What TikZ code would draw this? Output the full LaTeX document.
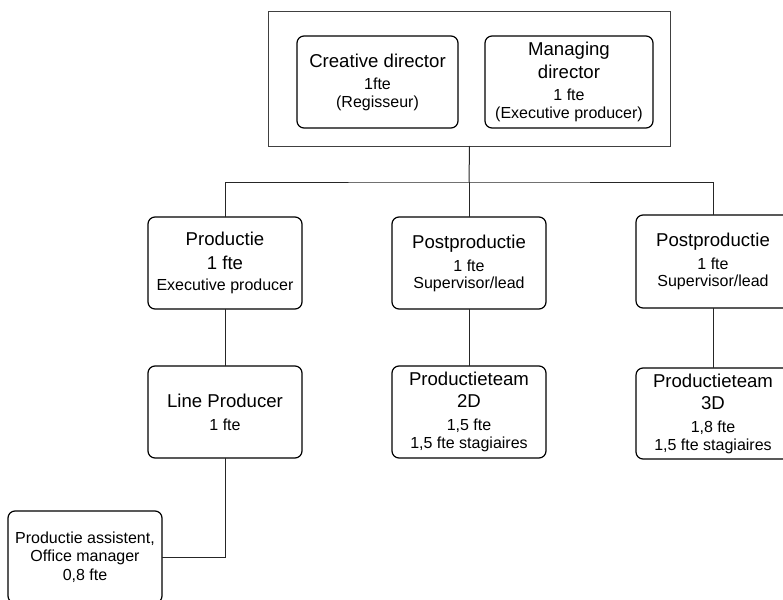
\documentclass[tikz,border=0pt]{standalone}
\usepackage{fontspec}
\setmainfont{Liberation Sans}
\newcommand\bigt{\fontsize{18.6}{20}\selectfont}
\newcommand\smt{\fontsize{16}{18}\selectfont}
\begin{document}
\begin{tikzpicture}[x=1pt,y=-1pt,
  box/.style={draw=black, line width=1.2pt, rounded corners=7pt, align=center,
    inner sep=0pt, outer sep=0pt, minimum height=92pt, minimum width=154pt, font=\smt},
  frame/.style={draw=black!75, line width=1pt, inner sep=0pt, outer sep=0pt},
  conn/.style={draw=black!85, line width=1pt}]
\clip (0,0) rectangle (783,599);
\fill[white] (0,0) rectangle (783,599);
\node[frame, minimum width=402pt, minimum height=134pt] (top) at (469.5,79) {};
\node[box, minimum width=161pt] (creative) at (377.5,82)
  {{\bigt Creative director}\\[4pt]1fte\\(Regisseur)};
\node[box, minimum width=168pt] (managing) at (569,82)
  {{\bigt Managing}\\[5pt]{\bigt director}\\[4pt]1 fte\\(Executive producer)};
\node[box] (prod) at (225,263)
  {{\bigt Productie}\\[6pt]{\bigt 1 fte}\\[3pt]Executive producer};
\node[box] (post2) at (469,263)
  {{\bigt Postproductie}\\[5pt]1 fte\\[-1pt]Supervisor/lead};
\node[box, minimum height=93pt] (post3) at (713,261.5)
  {{\bigt Postproductie}\\[5pt]1 fte\\[-1pt]Supervisor/lead};
\node[box] (line) at (225,412)
  {{\bigt Line Producer}\\[5pt]1 fte};
\node[box] (team2) at (469,412)
  {{\bigt Productieteam}\\[4pt]{\bigt 2D}\\[5pt]1,5 fte\\1,5 fte stagiaires};
\node[box, minimum height=91pt] (team3) at (713,413.5)
  {{\bigt Productieteam}\\[4pt]{\bigt 3D}\\[5pt]1,8 fte\\1,5 fte stagiaires};
\node[box] (assist) at (85,557)
  {Productie assistent,\\[0pt]Office manager\\[1pt]0,8 fte};
\coordinate (bus) at (469,182);
\draw[conn] (top.south) -- (bus);
\draw[conn] (prod.north) |- (bus) -| (post3.north);
\draw[conn] (bus) -- (post2.north);
\draw[conn] (prod.south) -- (line.north);
\draw[conn] (post2.south) -- (team2.north);
\draw[conn] (post3.south) -- (team3.north);
\draw[conn] (line.south) |- (assist.east);
\end{tikzpicture}
\end{document}
